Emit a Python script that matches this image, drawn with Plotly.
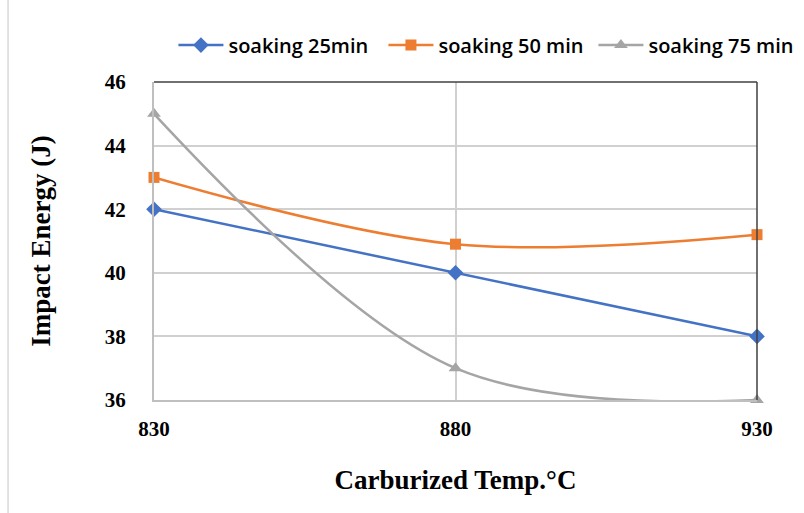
import plotly.graph_objects as go

temps = [830, 880, 930]
soak25 = [42, 40, 38]
soak50 = [43, 40.9, 41.2]
soak75 = [45, 37, 36]
names = ["soaking 25min", "soaking 50 min", "soaking 75 min"]

fig = go.Figure()
fig.add_trace(go.Scatter(x=temps, y=soak25, name=names[0], mode="lines+markers",
                         line=dict(color="#4472C4", width=2.5),
                         marker=dict(symbol="diamond", size=12, color="#4472C4"),
                         cliponaxis=False))
fig.add_trace(go.Scatter(x=temps, y=soak50, name=names[1], mode="lines+markers",
                         line=dict(color="#ED7D31", width=2.5, shape="spline", smoothing=1),
                         marker=dict(symbol="square", size=11, color="#ED7D31"),
                         cliponaxis=False))
fig.add_trace(go.Scatter(x=temps, y=soak75, name=names[2], mode="lines+markers",
                         line=dict(color="#A5A5A5", width=2.5, shape="spline", smoothing=1),
                         marker=dict(symbol="triangle-up", size=12, color="#A5A5A5"),
                         cliponaxis=False))

fig.update_layout(
    width=804, height=513,
    margin=dict(l=154, r=47, t=82, b=113, autoexpand=False),
    plot_bgcolor="white", paper_bgcolor="white",
    legend=dict(orientation="h", x=1.077, xanchor="right",
                y=1.116, yanchor="middle", bgcolor="rgba(0,0,0,0)",
                font=dict(family="Open Sans", size=20, color="#000000", weight=600),
                itemwidth=45, entrywidth=150, tracegroupgap=0),
    xaxis=dict(range=[830, 930], tickvals=temps, ticktext=[str(t) for t in temps],
               showgrid=True, gridcolor="#D0D0D0", gridwidth=1.5,
               showline=True, linecolor="#BFBFBF", linewidth=2,
               tickfont=dict(family="Liberation Serif", size=21, color="#000", weight="bold"),
               ticks="", ticklabelstandoff=9, zeroline=False,
               title=dict(text="Carburized Temp.°C", standoff=30,
                          font=dict(family="Liberation Serif", size=27, color="#000", weight="bold"))),
    yaxis=dict(range=[36, 46], tickvals=[36, 38, 40, 42, 44, 46],
               showgrid=True, gridcolor="#D0D0D0", gridwidth=1.5,
               showline=True, linecolor="#BFBFBF", linewidth=2,
               tickfont=dict(family="Liberation Serif", size=21, color="#000", weight="bold"),
               ticks="", ticklabelstandoff=22, zeroline=False,
               title=dict(text="Impact Energy (J)", standoff=46,
                          font=dict(family="Liberation Serif", size=27, color="#000", weight="bold"))),
    showlegend=True,
)

# dark top and right borders of plot area
fig.add_shape(type="line", xref="x domain", yref="y domain", x0=0, x1=1, y0=1, y1=1,
              line=dict(color="#404040", width=1.5))
fig.add_shape(type="line", xref="x domain", yref="y domain", x0=1, x1=1, y0=0, y1=1,
              line=dict(color="#404040", width=1.5))
# outer chart frame (left edge)
fig.add_shape(type="line", xref="paper", yref="paper", x0=-0.242, x1=-0.242, y0=-0.4, y1=1.3,
              line=dict(color="#D9D9D9", width=1.5))

fig.write_html("out.html")
